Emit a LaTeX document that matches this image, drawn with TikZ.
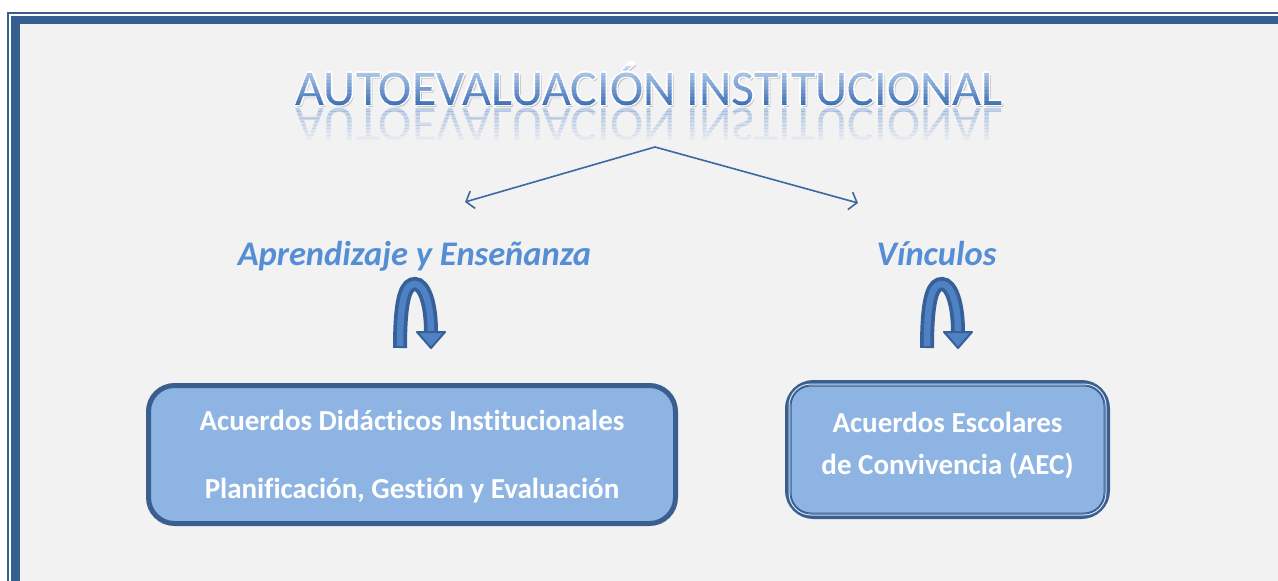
\documentclass[tikz,border=0pt]{standalone}
\usepackage{fontspec}
\setmainfont{Carlito}[Ligatures=CommonOff]
\usetikzlibrary{arrows.meta,positioning}
\definecolor{frameblue}{RGB}{54,95,145}
\definecolor{pagegray}{RGB}{242,242,242}
\definecolor{boxedge}{RGB}{58,94,142}
\definecolor{boxfill}{RGB}{142,180,227}
\definecolor{headblue}{RGB}{85,142,213}
\definecolor{lineblue}{RGB}{62,104,160}
\definecolor{uturnedge}{RGB}{56,96,152}
\definecolor{uturnfill}{RGB}{78,130,196}
\definecolor{titletop}{RGB}{190,212,240}
\definecolor{titlebot}{RGB}{60,110,180}
\definecolor{titlemid}{RGB}{120,160,215}
\newcommand\titletxt{AUTOEVALUACIÓN INSTITUCIONAL}
\tikzset{boxframe/.style={
    % The shape:
    rectangle,
    rounded corners=26pt,
    % The border:
    line width=5pt,
    draw=boxedge,
    % The filling:
    fill=boxfill,
    % Font
    font=\fontsize{29}{35}\selectfont\bfseries,
    text=white,
    align=center,
    },
    heading/.style={
    font=\fontsize{34.5}{40}\selectfont\bfseries\itshape,
    text=headblue,
    anchor=base,
    },
    titlefont/.style={
    font=\fontsize{50}{60}\selectfont,
    anchor=base,
    inner sep=0pt,
    },
    branch/.style={
    -{Straight Barb[length=7pt,width=18pt]},
    line width=1.6pt,
    draw=lineblue,
    },
    uturn/.pic={
    \draw[line width=14pt, draw=uturnedge] (0,0) .. controls (0,-55) and (7,-64) .. (15,-64) .. controls (24,-64) and (31,-45) .. (31,-16);
    \draw[line width=6.5pt, draw=uturnfill, shorten <=2pt] (0,0) .. controls (0,-55) and (7,-64) .. (15,-64) .. controls (24,-64) and (31,-45) .. (31,-16);
    \filldraw[fill=uturnfill, draw=uturnedge, line width=2pt, line join=round] (17,-16) -- (45,-16) -- (31,0) -- cycle;
    },
}

\begin{document}
\begin{tikzpicture}[x=1pt,y=-1pt]
  \useasboundingbox (0,0) rectangle (1278,581);
  \clip (0,0) rectangle (1278,581);
  % page and frame
  \fill[white] (0,0) rectangle (1278,581);
  \fill[pagegray] (20,24) rectangle (1300,600);
  \draw[frameblue, line width=8.5pt] (15.5,20) rectangle (1300,600);
  \draw[frameblue, line width=2pt] (8,13) rectangle (1310,610);

  % title: shadow, white rim, shaded letters, reflection
  \node (title) [titlefont, text=black!40, opacity=0.5] at (651,107.5) {\titletxt};
  \foreach \dx/\dy in {-1.5/0,1.5/0,0/-1.5,0/1.5,-1/-1,1/-1,-1/1,1/1}
    \node[titlefont, text=white] at (649+\dx,105+\dy) {\titletxt};
  \foreach \i in {0,...,11} {
    \pgfmathtruncatemacro\mixp{100-\i*100/11}
    \begin{scope}
      \clip (280,66+\i*3.5) rectangle (1020,69.6+\i*3.5);
      \node[titlefont, text=titletop!\mixp!titlebot] at (649,105) {\titletxt};
    \end{scope}
  }
  \foreach \i in {0,...,9} {
    \pgfmathsetmacro\op{0.42-\i*0.042}
    \begin{scope}
      \clip (280,108+\i*3.4) rectangle (1020,111.5+\i*3.4);
      \begin{scope}[shift={(649,108)},yscale=-1]
        \node[titlefont, transform shape, text=titlemid, opacity=\op] at (0,0) {\titletxt};
      \end{scope}
    \end{scope}
  }

  % branches
  \coordinate (apex) at (655,147);
  \coordinate (lefttip) at (465,202);
  \coordinate (righttip) at (858,203);
  \draw[branch] (apex) -- (lefttip);
  \draw[branch] (apex) -- (righttip);

  \node (apren) [heading] at (414.5,265) {Aprendizaje y Enseñanza};
  \node (vinc)  [heading] at (936.5,265) {Vínculos};

  \pic at (400,348) {uturn};
  \pic at (927,348) {uturn};

  \node (didac) [boxframe, minimum width=527pt, minimum height=138pt, text depth=0pt] at (412,454.5)
    {Acuerdos Didácticos Institucionales\\[33pt]Planificación, Gestión y Evaluación};
  \node (aec) [boxframe, minimum width=320pt, minimum height=134pt, text depth=13pt] at (947.5,449.5)
    {Acuerdos Escolares\\[7pt]de Convivencia (AEC)};
  \draw[white!60!boxfill, line width=1pt, rounded corners=22pt]
    ([shift={(4,4)}]aec.north west) rectangle ([shift={(-4,-4)}]aec.south east);
  \draw[boxedge, line width=1pt, rounded corners=20pt]
    ([shift={(6,6)}]aec.north west) rectangle ([shift={(-6,-6)}]aec.south east);
\end{tikzpicture}
\end{document}
